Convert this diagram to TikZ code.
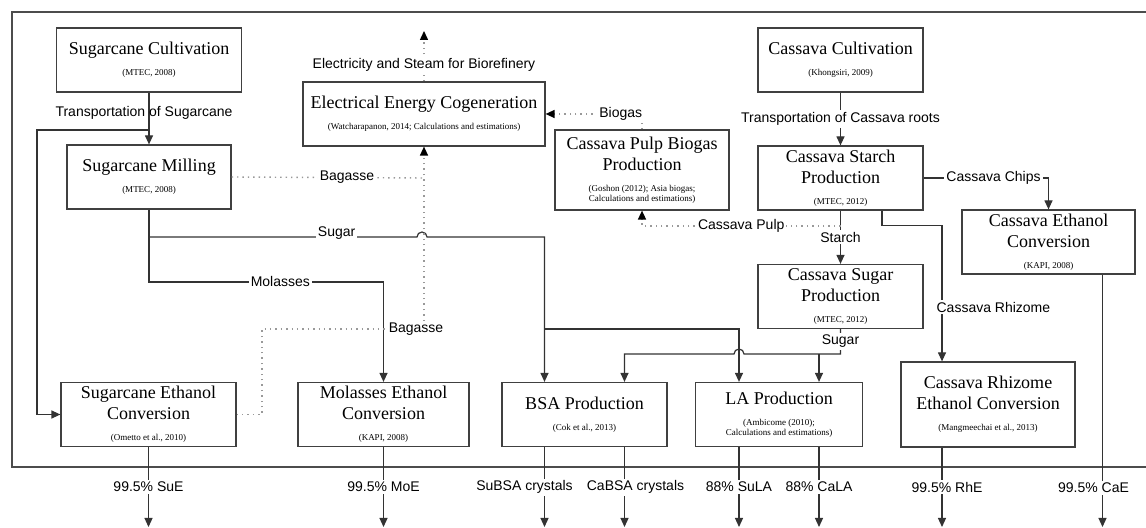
\documentclass[tikz,border=0pt]{standalone}
\usepackage{fontspec}
\setmainfont{Liberation Serif}
\setsansfont{Liberation Sans}
\usetikzlibrary{arrows.meta}
\newcommand{\ttlfont}{\fontsize{9}{10.5}\selectfont}
\newcommand{\citefont}{\fontsize{4.5}{5.5}\selectfont}

\begin{document}
\begin{tikzpicture}[x=0.5pt,y=-0.5pt,
  procbox/.style={draw=black!75,line width=0.6pt,align=center,inner sep=1pt,minimum height=32pt,font=\ttlfont},
  flow/.style={draw=black!80,line width=0.6pt,-{Triangle[width=4pt,length=4.5pt]}},
  bag/.style={draw=black!40,line width=0.7pt,dotted,-{Triangle[width=4pt,length=4.5pt,color=black]}},
  lbl/.style={font=\sffamily\fontsize{7}{8}\selectfont,fill=white,inner sep=1pt},
  outerframe/.style={draw=black!70,line width=0.8pt}]

\useasboundingbox (0,0) rectangle (1146,528);

\draw[outerframe] (1150,12) -- (12,12) -- (12,467) -- (1150,467);

\node[procbox,minimum width=92.5pt] (scult) at (149,60) {Sugarcane Cultivation\\{\citefont (MTEC, 2008)}};

\node[procbox,minimum width=82pt] (smill) at (149,177) {Sugarcane Milling\\{\citefont (MTEC, 2008)}};

\node[procbox,minimum width=121pt] (cogen) at (424,114) {Electrical Energy Cogeneration\\{\citefont (Watcharapanon, 2014; Calculations and estimations)}};

\node[procbox,minimum width=82.5pt] (ccult) at (840.5,60) {Cassava Cultivation\\{\citefont (Khongsiri, 2009)}};

\node[procbox,minimum width=82.5pt] (cstarch) at (840.5,178) {Cassava Starch\\Production\\{\citefont (MTEC, 2012)}};

\node[procbox,minimum width=87pt,minimum height=40pt] (pulp) at (642,170) {Cassava Pulp Biogas\\Production\\{\citefont (Goshon (2012); Asia biogas;}\\[-5.5pt]{\citefont Calculations and estimations)}};

\node[procbox,minimum width=86.5pt] (caeth) at (1048.5,242) {Cassava Ethanol\\Conversion\\{\citefont (KAPI, 2008)}};

\node[procbox,minimum width=82.5pt] (csugar) at (840.5,296.5) {Cassava Sugar\\Production\\{\citefont (MTEC, 2012)}};

\node[procbox,minimum width=87.5pt] (sueth) at (148.5,414.5) {Sugarcane Ethanol\\Conversion\\{\citefont (Ometto et al., 2010)}};

\node[procbox,minimum width=85.5pt] (moeth) at (383.5,414.5) {Molasses Ethanol\\Conversion\\{\citefont (KAPI, 2008)}};

\node[procbox,minimum width=82.5pt] (bsa) at (584.5,414.5) {BSA Production\\{\citefont (Cok et al., 2013)}};

\node[procbox,minimum width=83.5pt] (la) at (779,414.5) {LA Production\\{\citefont (Ambicome (2010);}\\[-5.5pt]{\citefont Calculations and estimations)}};

\node[procbox,minimum width=87pt,minimum height=42.5pt] (rheth) at (988,404.5) {Cassava Rhizome\\Ethanol Conversion\\{\citefont (Mangmeechai et al., 2013)}};

\coordinate (scjoin) at (149,130);

\coordinate (sugjoin) at (149,237);

\coordinate (labranch) at (544.5,329);

\coordinate (pulpjoin) at (840.5,226);

\draw[flow] (scult) -- node[lbl,fill=none,pos=0.4,xshift=-2.5pt]{Transportation of Sugarcane} (smill);

\draw[flow] (scjoin) -- (37,130) |- (sueth.west);

\draw[flow] (smill.south) -- (149,282) -| node[lbl,pos=0.28]{Molasses} (moeth.north);

\draw[flow] (sugjoin) -- node[lbl,pos=0.7,yshift=2pt]{Sugar} (417,237) arc[start angle=180,end angle=0,radius=2.5pt] -| ([xshift=-20pt]bsa.north);

\draw[flow] (labranch) -| ([xshift=-20pt]la.north);

\draw[flow] (csugar.south) -- node[lbl]{Sugar} (840.5,354) -- (744,354) arc[start angle=0,end angle=180,radius=2.5pt] -| ([xshift=20pt]bsa.north);

\draw[flow] (819,354) -- ([xshift=20pt]la.north);

\draw[bag] (sueth.east) -- (262,414.5) |- (424,329) node[lbl,xshift=-4pt]{Bagasse} -- (cogen.south);

\draw[bag,-] (smill.east) -- node[lbl,pos=0.6]{Bagasse} (424,178);

\draw[bag] (cogen.north) -- node[lbl,pos=0.33]{Electricity and Steam for Biorefinery} (424,31);

\draw[bag] (pulp.north) |- node[lbl,pos=0.61]{Biogas} (cogen.east);

\draw[flow] (ccult) -- node[lbl]{Transportation of Cassava roots} (cstarch);

\draw[flow] (cstarch.east) -| node[lbl,pos=0.28]{Cassava Chips} (caeth.north);

\draw[flow] (cstarch) -- node[lbl]{Starch} (csugar);

\draw[bag] (pulpjoin) -| node[lbl,pos=0.25]{Cassava Pulp} (pulp.south);

\draw[flow] ([xshift=20.75pt]cstarch.south) -- ++(0,15) -| node[lbl,pos=0.8,anchor=west,xshift=-4pt]{Cassava Rhizome} ([xshift=-23pt]rheth.north);

\draw[flow] (sueth.south) -- node[lbl]{99.5\% SuE} (148.5,527);

\draw[flow] (moeth.south) -- node[lbl]{99.5\% MoE} (383.5,527);

\draw[flow] ([xshift=-20pt]bsa.south) -- node[lbl,xshift=-10pt]{SuBSA crystals} (544.5,527);

\draw[flow] ([xshift=20pt]bsa.south) -- node[lbl,xshift=5.5pt]{CaBSA crystals} (624.5,527);

\draw[flow] ([xshift=-20pt]la.south) -- node[lbl]{88\% SuLA} (739,527);

\draw[flow] ([xshift=20pt]la.south) -- node[lbl]{88\% CaLA} (819,527);

\draw[flow] ([xshift=-23pt]rheth.south) -- node[lbl,xshift=2.5pt]{99.5\% RhE} (942,527);

\draw[flow] ([xshift=27pt]caeth.south) -- node[lbl,pos=0.846,xshift=-4.5pt]{99.5\% CaE} (1102.5,527);

\end{tikzpicture}
\end{document}
